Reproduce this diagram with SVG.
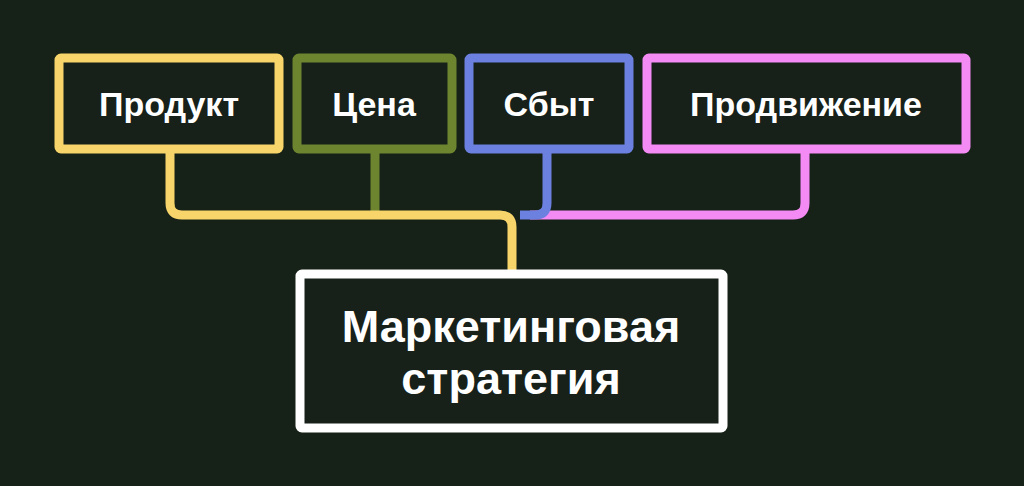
<svg xmlns="http://www.w3.org/2000/svg" width="1024" height="486" viewBox="0 0 1024 486">
<style>
.box{fill:#17211a;stroke-width:9}
.c{fill:none;stroke-width:9;stroke-linejoin:round}
text{font-family:"Liberation Sans",Arial,sans-serif;font-weight:bold;fill:#fff;text-anchor:middle}
</style>
<rect width="1024" height="486" fill="#162117"/>
<g id="connectors">
<path class="c" stroke="#f48af4" d="M805 150 V203 Q805 215 793 215 H530"/>
<path class="c" stroke="#6b80df" d="M547 150 V203 Q547 215 535 215 H520"/>
<path class="c" stroke="#6e8530" d="M375 150 V215"/>
<path class="c" stroke="#f7d56b" d="M170 150 V203 Q170 215 182 215 H500 Q512 215 512 227 V272"/>
</g>
<g id="n1"><rect class="box" x="59" y="58" width="220" height="91" rx="2" stroke="#f7d56b"/><text x="169" y="116" font-size="34">Продукт</text></g>
<g id="n2"><rect class="box" x="297" y="58" width="155" height="91" rx="2" stroke="#6e8530"/><text x="374" y="116" font-size="34">Цена</text></g>
<g id="n3"><rect class="box" x="469" y="58" width="160" height="91" rx="2" stroke="#6b80df"/><text x="549" y="116" font-size="34">Сбыт</text></g>
<g id="n4"><rect class="box" x="647" y="58" width="319" height="91" rx="2" stroke="#f48af4"/><text x="806" y="116" font-size="34">Продвижение</text></g>
<g id="n5"><rect class="box" x="300" y="274" width="423" height="154" rx="2" stroke="#ffffff"/><text x="511" y="342" font-size="45">Маркетинговая</text><text x="511" y="394" font-size="45">стратегия</text></g>
</svg>
